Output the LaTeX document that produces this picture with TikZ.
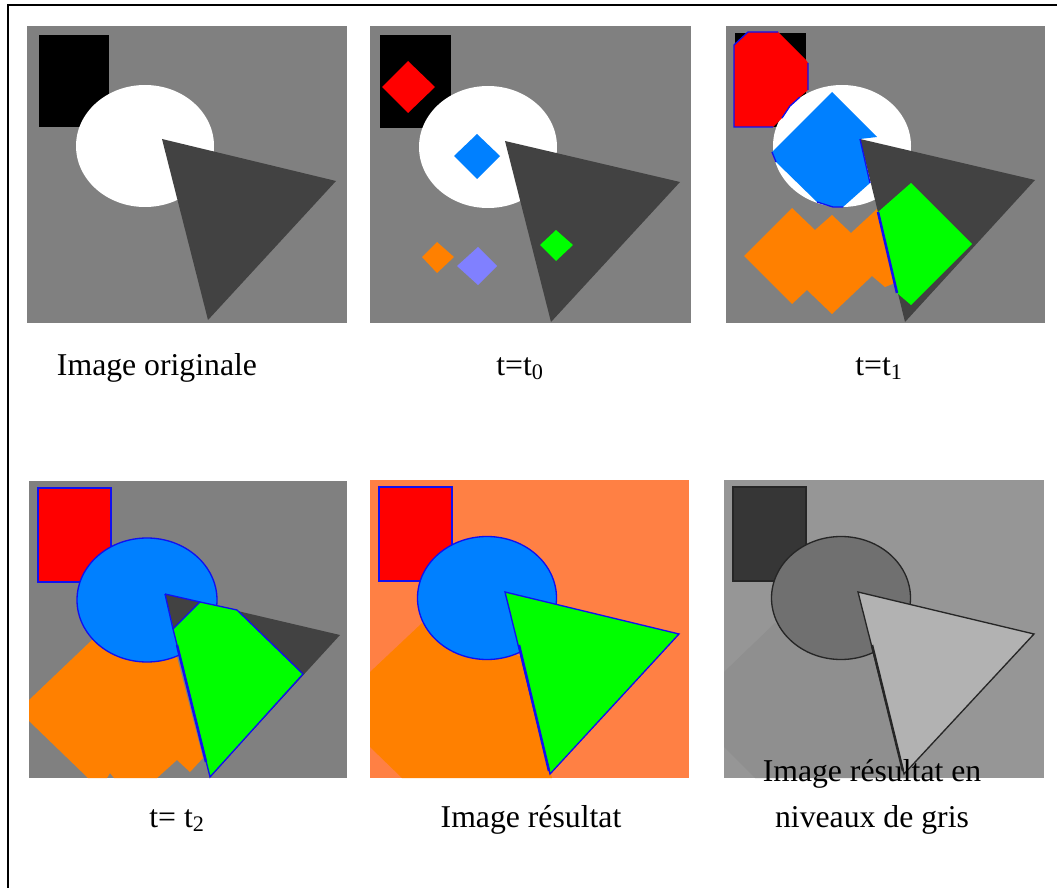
\documentclass[tikz,border=0pt]{standalone}
\usepackage{fontspec}
\setmainfont{Liberation Serif}
\usepackage{tikz}
\definecolor{bggray}{HTML}{808080}
\definecolor{darkgray}{HTML}{424242}
\definecolor{segorange}{HTML}{FF8000}
\definecolor{segblue}{HTML}{0080FF}
\definecolor{seglilac}{HTML}{8080FF}
\definecolor{segsalmon}{HTML}{FF8044}
\definecolor{edgeblue}{HTML}{1010F0}

\begin{document}
\begin{tikzpicture}[
  x=0.75pt, y=-0.75pt,
  caption/.style={anchor=base, align=center, inner sep=0pt, font=\fontsize{23.8}{27}\selectfont},
  outl/.style={draw=edgeblue, line width=1pt},
  thickedge/.style={draw=edgeblue, line width=1.9pt},
  grayedge/.style={draw=black!85, line width=1pt}
]
\useasboundingbox (0,0) rectangle (1057,888);

% Page rules (top and left only)
\draw[line width=1.5pt] (7.5,888) -- (7.5,5.5) -- (1057,5.5);

% Original image
\fill[bggray] (27,26) rectangle (347,323);
\fill[black] (39,35) rectangle (109,127);
\fill[white] (145,146) ellipse [x radius=69, y radius=61];
\fill[darkgray] (162,139) -- (336,181) -- (208,320) -- cycle;
\node[caption] (cap0) at (157,375) {Image originale};

% t = t0: small seeds
\fill[bggray] (370,26) rectangle (691,323);
\fill[black] (380,35) rectangle (451,128);
\fill[white] (488,147) ellipse [x radius=69, y radius=61];
\fill[darkgray] (505,141) -- (680,182) -- (551,322) -- cycle;
\fill[red] (382,87) -- (408,61) -- (435,87) -- (408,113) -- cycle;
\fill[segblue] (454,156) -- (477,134) -- (500,156) -- (477,179) -- cycle;
\fill[green] (540,245) -- (556,230) -- (573,245) -- (556,261) -- cycle;
\fill[segorange] (422,257) -- (437,242) -- (454,257) -- (437,273) -- cycle;
\fill[seglilac] (457,266) -- (478,247) -- (497,266) -- (478,285) -- cycle;
\node[caption] (cap1) at (520,375) {t=t\textsubscript{0}};

% t = t1: seeds have grown
\fill[bggray] (726,26) rectangle (1045,323);
\fill[black] (735,33) rectangle (806,127);
\fill[white] (842,146) ellipse [x radius=69, y radius=61];
\fill[segorange] (744,256) -- (792,208) -- (815,230) -- (832,215) -- (851,233) -- (877,209)
  -- (895,283) -- (885,287) -- (872,276) -- (832,314) -- (807,290) -- (792,304) -- cycle;
\fill[segblue] (832,92) -- (877,137) -- (860,139) -- (870,183) -- (843,207) -- (833,207)
  -- (817,202) -- (776,162) -- (772,152) -- cycle;
\fill[darkgray] (860,139) -- (1035,180) -- (905,322) -- cycle;
\fill[green] (911,183) -- (972,244) -- (911,305) -- (897,293) -- (878,212) -- cycle;
\fill[red] (734,45) -- (748,32) -- (778,32) -- (806,60) -- (808,63) -- (808,90) -- (800,97)
  -- (790,106) -- (782,118) -- (773,127) -- (734,127) -- cycle;
\draw[outl] (808,63) -- (808,90) (800,97) -- (790,106) -- (782,118) (773,127) -- (734,127)
  -- (734,45) -- (748,32) -- (778,32);
\draw[outl] (860,139) -- (870,183) (817,202) -- (833,207) -- (843,207) (776,162) -- (772,152);
\draw[thickedge] (878,212) -- (897,293);
\node[caption] (cap2) at (879,375) {t=t\textsubscript{1}};

% t = t2
\fill[bggray] (29,481) rectangle (347,778);
\begin{scope}
  \clip (29,481) rectangle (347,778);
  \fill[segorange] (92,640) -- (29,700) -- (29,721) -- (88,778) -- (107,778) -- (110,773)
    -- (114,778) -- (157,778) -- (177,760) -- (190,772) -- (203,758) -- (177,657) -- cycle;
\end{scope}
\filldraw[fill=red, outl] (38,488) rectangle (111,582);
\filldraw[fill=segblue, outl] (147,600) ellipse [x radius=70, y radius=62];
\fill[darkgray] (165,594) -- (340,635) -- (210,777) -- cycle;
\draw[outl] (165,594) -- (173,629);
\filldraw[fill=green, outl] (200,602) -- (237,610) -- (303,674) -- (210,777) -- (173,629) -- cycle;
\draw[outl] (165,594) -- (200,602);
\draw[thickedge] (177,645) -- (206,762);
\node[caption] (cap3) at (177,827) {t= t\textsubscript{2}};

% Final segmentation in colour
\fill[segsalmon] (370,480) rectangle (689,778);
\fill[segorange] (422,623) -- (370,672) -- (370,747) -- (402,778) -- (552,778) -- (522,657) -- cycle;
\filldraw[fill=red, outl] (379,487) rectangle (452,581);
\filldraw[fill=segblue, outl] (487,598) ellipse [x radius=69.5, y radius=61.5];
\filldraw[fill=green, outl] (505,592) -- (679,634) -- (550,774) -- cycle;
\draw[thickedge] (519,645) -- (549,771);
\node[caption] (cap4) at (531,827) {Image résultat};

% Final segmentation in gray levels
\fill[black!41] (724,480) rectangle (1044,778);
\fill[black!44] (775,623) -- (724,672) -- (724,747) -- (755,778) -- (906,778) -- (876,657) -- cycle;
\filldraw[fill=black!79, grayedge] (733,487) rectangle (806,581);
\filldraw[fill=black!56, grayedge] (841,598) ellipse [x radius=69.5, y radius=61.5];
\filldraw[fill=black!30, grayedge] (858,592) -- (1034,634) -- (904,774) -- cycle;
\draw[grayedge, line width=1.9pt] (872,645) -- (903,771);
\node[caption] (cap5) at (872,827) {Image résultat en\\[7pt]niveaux de gris};
\end{tikzpicture}
\end{document}
